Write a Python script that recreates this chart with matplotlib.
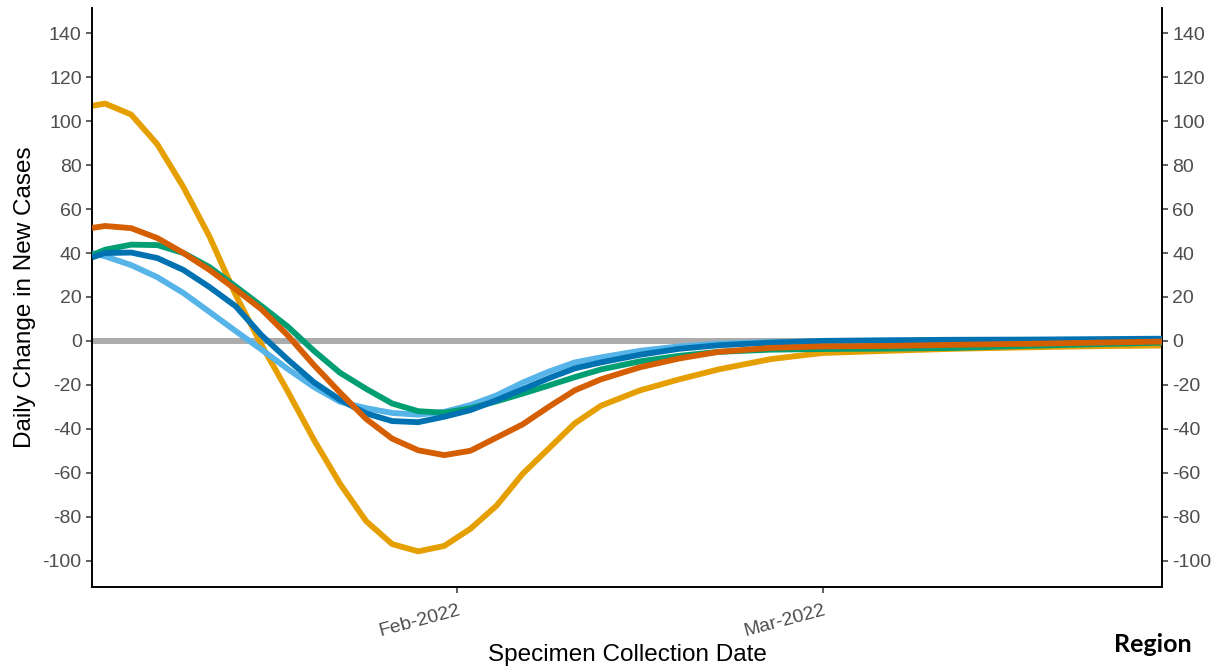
import pandas as pd
import matplotlib
matplotlib.use("Agg")
import matplotlib.pyplot as plt
import matplotlib.dates as mdates

plt.rcParams['font.family'] = ['Liberation Sans', 'DejaVu Sans']
plt.rcParams['axes.unicode_minus'] = False

# Fechas de muestreo (curvas suavizadas)
fechas = pd.to_datetime([
    "2022-01-04", "2022-01-05", "2022-01-07", "2022-01-09", "2022-01-11",
    "2022-01-13", "2022-01-15", "2022-01-17", "2022-01-19", "2022-01-21",
    "2022-01-23", "2022-01-25", "2022-01-27", "2022-01-29", "2022-01-31",
    "2022-02-02", "2022-02-04", "2022-02-06", "2022-02-08", "2022-02-10",
    "2022-02-12", "2022-02-15", "2022-02-18", "2022-02-21", "2022-02-25",
    "2022-03-01", "2022-03-06", "2022-03-11", "2022-03-17", "2022-03-22",
    "2022-03-27",
])

amarillo = [107, 108, 103, 89.5, 70, 47.5, 21, -2, -23, -45,
            -65, -82, -92.5, -95.8, -93.3, -85.5, -75, -60.5, -49, -37.5,
            -29.5, -22.5, -17.5, -13, -8.3, -5.5, -4.5, -3.6, -2.9, -2.4,
            -2.1]
celeste = [40, 38.5, 34.5, 29, 21.8, 13.2, 4.5, -4, -12.8, -21,
           -27.7, -30.6, -32.8, -33.6, -32.3, -29.2, -24.8, -19, -14, -9.8,
           -7.5, -4.5, -2.5, -1.3, -0.6, -0.4, -0.2, 0, 0.2, 0.4,
           0.6]
verde = [39, 41.5, 43.8, 43.6, 40, 33.6, 24.8, 15.8, 6.5, -4.5,
         -14.5, -21.8, -28.5, -32, -32.7, -30.7, -27.5, -24, -20.3, -16.5,
         -13, -9.3, -6.8, -5, -4, -3.7, -3.5, -3.2, -2.2, -1.5,
         -0.8]
azul = [38, 40, 40.2, 37.7, 32.3, 24.5, 15.8, 2.5, -8.5, -18.8,
        -26.8, -33, -36.5, -37, -34.5, -31.5, -27, -22, -17, -12.5,
        -9.8, -6.3, -3.6, -2, -0.8, 0, 0.3, 0.5, 0.6, 0.8,
        1]
bermellon = [51.4, 52.3, 51.3, 46.8, 40, 32.3, 23.5, 14.3, 2.5, -11,
             -23.5, -35.5, -44.5, -49.8, -52, -50, -44, -38, -30, -22.5,
             -17.5, -12, -8, -5, -3.2, -2.5, -2.3, -1.8, -1.3, -0.8,
             -0.3]

series = [
    (amarillo, "#E69F00"),
    (celeste, "#56B4E9"),
    (verde, "#009E73"),
    (azul, "#0072B2"),
    (bermellon, "#D55E00"),
]

yticks = list(range(-100, 141, 20))
xticks = pd.to_datetime(["2022-02-01", "2022-03-01"])

fig = plt.figure(figsize=(12.16, 6.68), dpi=100)
ax = fig.add_axes([0.0757, 0.1213, 0.8799, 0.8667])

ax.axhline(0, color="#ABABAB", lw=4.3, zorder=1)
for i, (valores, color) in enumerate(series):
    ax.plot(fechas, valores, color=color, lw=4.2, solid_capstyle="butt",
            solid_joinstyle="round", zorder=2 + i)

ax.set_xlim(fechas[0], fechas[-1])
ax.set_ylim(-112, 151.5)
ax.set_yticks(yticks)
ax.set_xticks(xticks)
ax.xaxis.set_major_formatter(mdates.DateFormatter("%b-%Y"))

ax.spines["top"].set_visible(False)
for lado in ["left", "bottom", "right"]:
    ax.spines[lado].set_linewidth(1.4)
    ax.spines[lado].set_color("black")

ax.tick_params(axis="both", direction="out", length=4.5, width=1.1,
               colors="#333333", labelcolor="#4D4D4D", labelsize=14)
ax.tick_params(axis="y", right=True, labelright=True, pad=3)
ax.tick_params(axis="x", pad=6)
for lbl in ax.get_xticklabels():
    lbl.set_rotation(15)
    lbl.set_ha("right")
    lbl.set_rotation_mode("anchor")

ax.set_ylabel("Daily Change in New Cases", fontsize=17.5, labelpad=5)
ax.set_xlabel("Specimen Collection Date", fontsize=17.5, labelpad=3)

fig.text(0.9802, 0.035, "Region", fontsize=18, fontweight="bold",
         family=["Lato", "DejaVu Sans"], ha="right", va="center")

fig.savefig("out.png", dpi=100)
